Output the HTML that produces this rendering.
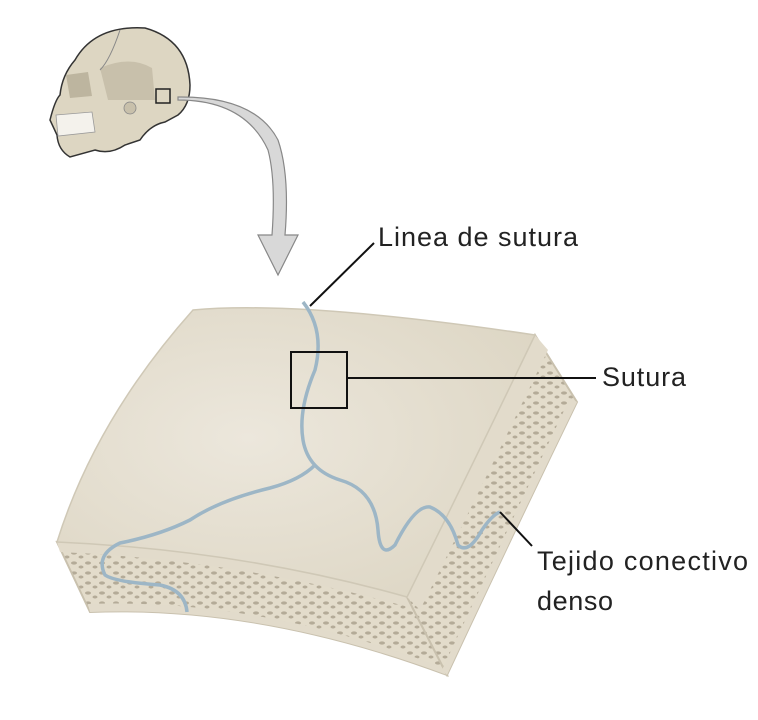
<!DOCTYPE html>
<html><head><meta charset="utf-8"><style>
body{margin:0;background:#fff}
svg{display:block}
text{font-family:"Liberation Sans",sans-serif;font-size:27px;fill:#222}
</style></head><body>
<svg width="758" height="720" viewBox="0 0 758 720">
<defs>
<pattern id="sp" width="14" height="10" patternUnits="userSpaceOnUse">
<rect width="14" height="10" fill="#e3dccb"/>
<ellipse cx="4" cy="3" rx="3" ry="1.6" fill="#b4ab98"/>
<ellipse cx="11" cy="7" rx="2.5" ry="1.5" fill="#b4ab98"/>
</pattern>
<radialGradient id="tg" cx="0.4" cy="0.45" r="0.7">
<stop offset="0" stop-color="#ece7dc"/><stop offset="1" stop-color="#ddd6c4"/>
</radialGradient>
</defs>
<!-- skull -->
<path d="M75,60 Q95,25 145,28 Q188,40 190,85 Q190,105 178,115 L165,122 Q150,125 140,140 L125,145 Q110,155 95,150 L70,157 Q58,150 57,135 L50,120 Q55,100 60,95 Q62,75 75,60 Z" fill="#ddd6c2" stroke="#333" stroke-width="1.5"/>
<path d="M100,68 Q130,55 152,68 L155,100 L108,100 Z" fill="#c8c0ab"/>
<path d="M66,75 L88,72 L92,96 L70,98 Z" fill="#bdb59f"/>
<path d="M56,115 L92,112 L95,132 L58,136 Z" fill="#f4f2ec" stroke="#999" stroke-width="0.8"/>
<path d="M120,30 Q110,60 100,70" fill="none" stroke="#888" stroke-width="1"/>
<circle cx="130" cy="108" r="6" fill="#c8c0ab" stroke="#888" stroke-width="0.8"/>
<rect x="156" y="89" width="14" height="14" fill="none" stroke="#222" stroke-width="1.5"/>
<!-- curved arrow -->
<path d="M178,100 Q245,100 268,150 Q276,180 272,235 L258,235 L278,275 L298,235 L285,235 Q290,175 278,140 Q255,96 178,97 Z" fill="#d8d8d8" stroke="#888" stroke-width="1.2"/>
<!-- front face -->
<path d="M57,542 Q240,550 407,597 L447,675 Q260,605 90,612 Z" fill="url(#sp)" stroke="#c9c1ae" stroke-width="2"/>
<path d="M57,542 Q240,550 407,597 L412,608 Q240,560 60,552 Z" fill="#e2dbcb"/>
<path d="M90,612 Q260,605 447,675 L444,668 Q260,598 88,604 Z" fill="#e2dbcb"/>
<!-- right face -->
<path d="M535,335 L577,402 Q510,540 447,675 L407,597 Q470,470 535,335 Z" fill="url(#sp)" stroke="#c9c1ae" stroke-width="2"/>
<path d="M535,335 L548,350 Q485,480 420,610 L407,597 Q470,470 535,335 Z" fill="#e2dbcb"/>
<path d="M577,402 L570,398 Q505,535 442,670 L447,675 Q510,540 577,402 Z" fill="#e2dbcb"/>
<!-- top surface -->
<path d="M193,310 Q300,300 535,335 Q470,470 407,597 Q240,550 57,542 Q95,420 193,310 Z" fill="url(#tg)" stroke="#cfc8b6" stroke-width="1.5"/>
<!-- suture -->
<path d="M303,302 Q325,330 315,370 Q298,410 303,440 Q308,470 340,480 Q375,490 378,530 Q380,560 395,545 Q415,505 430,507 Q450,515 458,545 Q468,555 482,530 Q492,515 500,512" fill="none" stroke="#9db6c6" stroke-width="3.5"/>
<path d="M315,465 Q300,480 270,488 Q220,500 190,520 Q160,535 120,543 Q95,555 105,575 Q115,582 160,585 Q185,590 187,612" fill="none" stroke="#9db6c6" stroke-width="3.5"/>
<!-- labels -->
<rect x="291" y="352" width="56" height="56" fill="none" stroke="#111" stroke-width="2"/>
<line x1="374" y1="243" x2="310" y2="306" stroke="#111" stroke-width="2"/>
<line x1="347" y1="378" x2="596" y2="378" stroke="#111" stroke-width="2"/>
<line x1="500" y1="512" x2="532" y2="546" stroke="#111" stroke-width="2"/>
<text x="378" y="246" textLength="200">Linea de sutura</text>
<text x="602" y="386" textLength="84">Sutura</text>
<text x="537" y="570" textLength="211">Tejido conectivo</text>
<text x="537" y="610" textLength="76">denso</text>
</svg>
</body></html>
